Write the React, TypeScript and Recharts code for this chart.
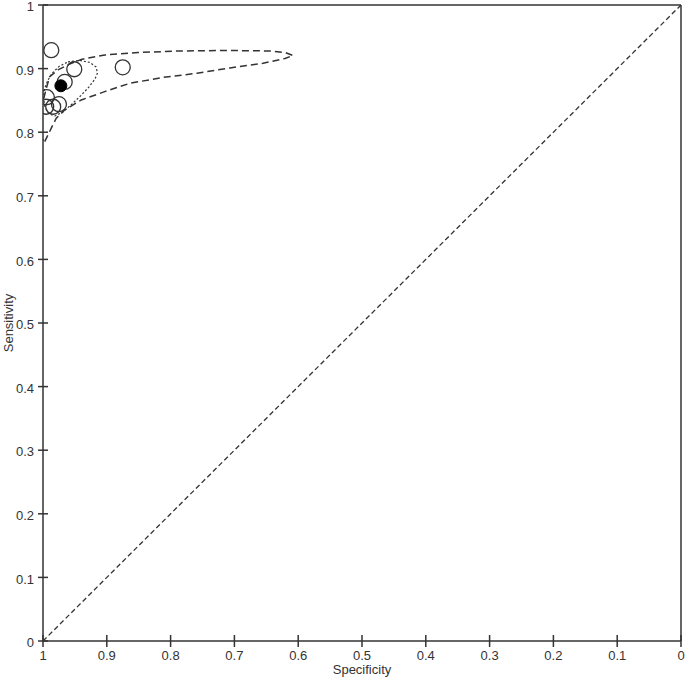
import React from 'react';
import {
  ComposedChart,
  Line,
  Scatter,
  XAxis,
  YAxis,
  ReferenceLine,
} from 'recharts';

// axis ticks (specificity runs 1 -> 0)
const TICKS = [0, 0.1, 0.2, 0.3, 0.4, 0.5, 0.6, 0.7, 0.8, 0.9, 1];

// individual studies
const STUDY_SPEC = [0.987, 0.951, 0.875, 0.966, 0.994, 0.995, 0.984, 0.975];
const STUDY_SENS = [0.929, 0.899, 0.902, 0.879, 0.855, 0.84, 0.84, 0.844];

// summary point
const SUMMARY_SPEC = [0.972];
const SUMMARY_SENS = [0.873];

// 95% prediction region (dashed)
const PRED_SPEC = [
  0.9973, 0.9922, 0.987, 0.9792, 0.966, 0.94, 0.9033, 0.8636, 0.8119, 0.7586,
  0.7069, 0.6552, 0.6207, 0.6082, 0.6207, 0.6442, 0.7069, 0.7853, 0.8511,
  0.9033, 0.94, 0.9582, 0.9765, 0.9895, 0.9948, 1.0, 1.0047, 1.0063, 1.0031,
  0.9973,
];
const PRED_SENS = [
  0.7852, 0.7958, 0.8063, 0.822, 0.835, 0.8507, 0.8638, 0.877, 0.8861, 0.8927,
  0.901, 0.9084, 0.9159, 0.9207, 0.9254, 0.9277, 0.9285, 0.9277, 0.9254,
  0.9214, 0.9144, 0.9073, 0.8979, 0.8874, 0.8691, 0.8481, 0.8272, 0.8067,
  0.7911, 0.7852,
];

// 95% confidence region (dotted)
const CONF_SPEC = [
  0.9608, 0.942, 0.9263, 0.9169, 0.9146, 0.9185, 0.9279, 0.9404, 0.9545,
  0.9687, 0.9812, 0.9906, 0.9969, 0.9992, 0.9976, 0.9929, 0.9859, 0.9749,
  0.9608,
];
const CONF_SENS = [
  0.9105, 0.9128, 0.9097, 0.9026, 0.8932, 0.8837, 0.8712, 0.8578, 0.8444,
  0.8319, 0.8256, 0.8287, 0.8397, 0.8539, 0.868, 0.8806, 0.8924, 0.9034,
  0.9105,
];

// chance line
const DIAG_SPEC = [1, 0];
const DIAG_SENS = [0, 1];

const zip = (xs: number[], ys: number[]) => xs.map((spec, i) => ({ spec, sens: ys[i] }));

const studies = zip(STUDY_SPEC, STUDY_SENS);
const summary = zip(SUMMARY_SPEC, SUMMARY_SENS);
const prediction = zip(PRED_SPEC, PRED_SENS);
const confidence = zip(CONF_SPEC, CONF_SENS);
const diagonal = zip(DIAG_SPEC, DIAG_SENS);

const INK = '#333';
const FONT = '"Liberation Sans", Arial, sans-serif';

const XTick = (props: any) => {
  const { x, y, payload } = props;
  return (
    <g>
      <line x1={x} x2={x} y1={y - 6} y2={y + 6} stroke={INK} strokeWidth={1.5} />
      <text x={x} y={y + 19} textAnchor="middle" fill={INK} fontSize={13} fontFamily={FONT}>
        {String(payload.value)}
      </text>
    </g>
  );
};

const YTick = (props: any) => {
  const { x, y, payload } = props;
  return (
    <g>
      <line x1={x - 5} x2={x + 5} y1={y} y2={y} stroke={INK} strokeWidth={1.5} />
      <text x={x - 9} y={y} dy="0.48em" textAnchor="end" fill={INK} fontSize={13} fontFamily={FONT}>
        {String(payload.value)}
      </text>
    </g>
  );
};

const OpenCircle = (props: any) => (
  <circle cx={props.cx} cy={props.cy} r={7.5} fill="none" stroke={INK} strokeWidth={1.3} />
);

const FilledCircle = (props: any) => (
  <circle cx={props.cx} cy={props.cy} r={6} fill="#000" stroke="#000" strokeWidth={1} />
);

export default function App() {
  return (
    <div style={{ position: 'absolute', left: 0, top: 0, background: '#fff' }}>
      <ComposedChart
        width={685}
        height={681}
        margin={{ top: 5, right: 4, bottom: 0, left: 0 }}
        style={{ fontFamily: FONT }}
      >
        <XAxis
          dataKey="spec"
          type="number"
          domain={[0, 1]}
          reversed
          allowDataOverflow
          ticks={TICKS}
          interval={0}
          height={40}
          tickSize={0}
          tickMargin={0}
          tickLine={false}
          tick={<XTick />}
          axisLine={{ stroke: INK, strokeWidth: 1.5 }}
          label={{ value: 'Specificity', position: 'insideBottom', offset: 7, fill: INK, fontSize: 13, fontFamily: FONT }}
        />
        <YAxis
          dataKey="sens"
          type="number"
          domain={[0, 1]}
          allowDataOverflow
          ticks={TICKS}
          interval={0}
          width={43}
          tickSize={0}
          tickMargin={0}
          tickLine={false}
          tick={<YTick />}
          axisLine={{ stroke: INK, strokeWidth: 1.5 }}
          label={{ value: 'Sensitivity', angle: -90, position: 'insideLeft', offset: 8, textAnchor: 'middle', fill: INK, fontSize: 13, fontFamily: FONT }}
        />
        <ReferenceLine y={1} stroke={INK} strokeWidth={1.5} />
        <ReferenceLine x={0} stroke={INK} strokeWidth={1.5} />

        <Line data={diagonal} dataKey="sens" type="linear" stroke={INK} strokeWidth={1.3} strokeDasharray="5 3" dot={false} activeDot={false} isAnimationActive={false} />
        <Line data={prediction} dataKey="sens" type="linear" stroke={INK} strokeWidth={1.5} strokeDasharray="7 4" dot={false} activeDot={false} isAnimationActive={false} />
        <Line data={confidence} dataKey="sens" type="linear" stroke={INK} strokeWidth={1.2} strokeDasharray="2 2" dot={false} activeDot={false} isAnimationActive={false} />

        <Scatter data={studies} dataKey="sens" shape={<OpenCircle />} isAnimationActive={false} />
        <Scatter data={summary} dataKey="sens" shape={<FilledCircle />} isAnimationActive={false} />
      </ComposedChart>
    </div>
  );
}
